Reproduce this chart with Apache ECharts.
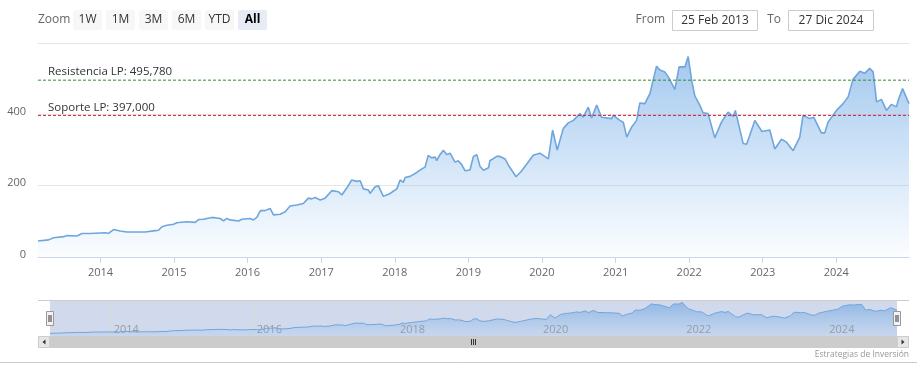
<!DOCTYPE html>
<html>
<head>
<meta charset="utf-8">
<script src="https://cdn.jsdelivr.net/npm/echarts@6/dist/echarts.min.js"></script>
<style>
html,body{margin:0;padding:0;background:#fff;}
#c{width:917px;height:378px;}
</style>
</head>
<body>
<div id="c"></div>
<script>
// ---- data ----
const dates = ['2013-02-25','2013-04-19','2013-05-13','2013-07-02','2013-07-19','2013-09-06','2013-10-01','2013-11-11',
'2014-01-25','2014-02-10','2014-03-07','2014-04-09','2014-05-12','2014-07-17','2014-08-11','2014-09-30','2014-10-16','2014-11-02','2014-11-27','2014-12-30',
'2015-01-15','2015-03-06','2015-04-16','2015-05-03','2015-05-27','2015-07-08','2015-08-18','2015-09-04','2015-09-20','2015-10-07','2015-11-17','2015-12-04',
'2016-01-14','2016-01-30','2016-02-16','2016-03-05','2016-03-28','2016-04-22','2016-05-09','2016-06-11','2016-07-06','2016-07-30','2016-09-02','2016-10-04','2016-10-29','2016-11-15','2016-12-01','2016-12-27',
'2017-01-20','2017-02-22','2017-03-27','2017-04-13','2017-05-08','2017-06-01','2017-06-26','2017-07-13','2017-07-29','2017-08-23','2017-08-31','2017-09-25','2017-10-11','2017-11-05','2017-12-08',
'2018-01-11','2018-01-27','2018-02-12','2018-02-21','2018-03-18','2018-04-20','2018-05-15','2018-05-31','2018-06-16','2018-07-03','2018-07-20','2018-07-28','2018-08-13','2018-08-30','2018-09-16','2018-10-02','2018-10-27','2018-11-12','2018-11-29','2018-12-15',
'2019-01-09','2019-01-26','2019-02-12','2019-02-28','2019-03-17','2019-04-11','2019-04-18','2019-05-22','2019-06-07','2019-07-02','2019-07-18','2019-08-26','2019-09-23','2019-11-19','2019-12-22',
'2020-02-02','2020-02-23','2020-03-17','2020-04-16','2020-05-11','2020-06-05','2020-07-08','2020-07-24','2020-08-18','2020-09-04','2020-09-29','2020-10-23','2020-12-12','2020-12-20',
'2021-01-22','2021-02-08','2021-02-25','2021-03-21','2021-04-15','2021-05-01','2021-05-26','2021-06-20','2021-07-23','2021-08-09','2021-09-02','2021-09-19','2021-10-22','2021-11-12','2021-12-11','2021-12-27',
'2022-01-13','2022-01-29','2022-02-23','2022-03-11','2022-04-05','2022-05-08','2022-06-10','2022-07-13','2022-08-07','2022-08-18','2022-09-26','2022-10-13','2022-11-23','2022-12-28',
'2023-02-05','2023-03-02','2023-04-04','2023-04-29','2023-06-01','2023-07-04','2023-07-20','2023-08-23','2023-09-11','2023-10-19','2023-11-05','2023-11-21',
'2024-01-02','2024-02-04','2024-02-29','2024-03-24','2024-04-27','2024-05-21','2024-06-15','2024-07-02','2024-07-19','2024-08-12','2024-09-06','2024-10-01','2024-10-26','2024-11-03','2024-11-25','2024-12-27'];
const values = [45,48,54,57,60,59,66,66,
68,66,77,73,70,70,70,74,75,85,89,92,
96,99,97,105,106,111,108,101,108,104,101,106,
108,104,111,130,130,136,118,120,127,143,146,150,165,163,167,160,
165,186,183,174,194,216,212,214,191,188,178,197,200,170,178,
191,216,209,223,226,237,247,252,285,278,280,270,287,299,287,291,266,270,259,242,
244,282,287,254,243,250,270,282,282,275,258,225,242,285,291,
275,356,300,360,376,383,402,392,420,390,426,392,388,397,
383,378,336,364,383,432,430,458,535,524,519,505,470,533,533,562,
496,452,425,404,402,334,378,406,394,411,318,316,383,352,
356,303,330,322,298,336,397,388,392,348,348,378,
411,430,449,498,521,515,529,519,435,442,411,428,421,439,472,430];
const resistencia = 495.78;
const soporte = 397;
const yTicks = [0, 200, 400, 600];
const navYears = ['2014-01-01','2016-01-01','2018-01-01','2020-01-01','2022-01-01','2024-01-01'];
const zoomButtons = ['1W','1M','3M','6M','YTD','All'];
const fromText = '25 Feb 2013';
const toText = '27 Dic 2024';
const startDate = '2013-02-25';
const endDate = '2024-12-27';

const seriesData = dates.map((d, i) => [d, values[i]]);
const FONT = '"Open Sans", "DejaVu Sans", sans-serif';
const YEAR = 365 * 24 * 3600 * 1000;
const fmt3 = v => v.toFixed(3).replace('.', ',');

const chart = echarts.init(document.getElementById('c'), null, {renderer: 'canvas'});

const areaGrad = new echarts.graphic.LinearGradient(0, 0, 0, 1, [
  {offset: 0, color: 'rgba(118,172,230,0.95)'},
  {offset: 1, color: 'rgba(124,181,236,0.04)'}
]);
const navGrad = new echarts.graphic.LinearGradient(0, 0, 0, 1, [
  {offset: 0, color: 'rgba(110,162,222,0.9)'},
  {offset: 1, color: 'rgba(124,181,236,0.15)'}
]);

// graphic elements (UI chrome)
const g = [];
g.push({type:'text', x:38, y:20, z:10, style:{text:'Zoom', fill:'#666', font:'12px ' + FONT, textAlign:'left', textVerticalAlign:'middle'}});
zoomButtons.forEach((b, i) => {
  const x = 73 + i * 33;
  const sel = b === 'All';
  g.push({type:'rect', z:10, shape:{x:x, y:10, width:29, height:20, r:2}, style:{fill: sel ? '#e6ebf5' : '#f7f7f7'}});
  g.push({type:'text', z:11, x:x + 14.5, y:20, style:{text:b, fill: sel ? '#000' : '#333', font:(sel ? 'bold ' : '') + '12px ' + FONT, textAlign:'center', textVerticalAlign:'middle'}});
});
g.push({type:'text', x:665, y:20, z:10, style:{text:'From', fill:'#666', font:'12px ' + FONT, textAlign:'right', textVerticalAlign:'middle'}});
g.push({type:'rect', z:10, shape:{x:672.5, y:10.5, width:85, height:20}, style:{fill:'#fff', stroke:'#cccccc', lineWidth:1}});
g.push({type:'text', x:715, y:20.5, z:11, style:{text:fromText, fill:'#333', font:'12px ' + FONT, textAlign:'center', textVerticalAlign:'middle'}});
g.push({type:'text', x:781, y:20, z:10, style:{text:'To', fill:'#666', font:'12px ' + FONT, textAlign:'right', textVerticalAlign:'middle'}});
g.push({type:'rect', z:10, shape:{x:788.5, y:10.5, width:85, height:20}, style:{fill:'#fff', stroke:'#cccccc', lineWidth:1}});
g.push({type:'text', x:831, y:20.5, z:11, style:{text:toText, fill:'#333', font:'12px ' + FONT, textAlign:'center', textVerticalAlign:'middle'}});

// navigator mask & outline
g.push({type:'rect', z:0, shape:{x:50, y:300, width:847, height:36}, style:{fill:'rgba(102,133,194,0.3)'}});
g.push({type:'line', z:10, shape:{x1:38, y1:300.5, x2:909, y2:300.5}, style:{stroke:'#cccccc', lineWidth:1}});
// scrollbar
g.push({type:'rect', z:10, shape:{x:38, y:336, width:871, height:12}, style:{fill:'#f2f2f2'}});
g.push({type:'rect', z:11, shape:{x:50, y:336, width:847, height:12}, style:{fill:'#cccccc'}});
g.push({type:'rect', z:11, shape:{x:38.5, y:336.5, width:11, height:11}, style:{fill:'#e6e6e6', stroke:'#cccccc', lineWidth:1}});
g.push({type:'rect', z:11, shape:{x:897.5, y:336.5, width:11, height:11}, style:{fill:'#e6e6e6', stroke:'#cccccc', lineWidth:1}});
g.push({type:'polygon', z:12, shape:{points:[[42.5,342],[45.5,339.5],[45.5,344.5]]}, style:{fill:'#333'}});
g.push({type:'polygon', z:12, shape:{points:[[904.5,342],[901.5,339.5],[901.5,344.5]]}, style:{fill:'#333'}});
[471.5, 473.5, 475.5].forEach(x => g.push({type:'line', z:12, shape:{x1:x, y1:339, x2:x, y2:345}, style:{stroke:'#333', lineWidth:1}}));
// handles
[50, 897].forEach(cx => {
  g.push({type:'rect', z:12, shape:{x:cx - 3.5, y:311.5, width:7, height:14}, style:{fill:'#f2f2f2', stroke:'#999999', lineWidth:1}});
  g.push({type:'line', z:13, shape:{x1:cx - 1, y1:315, x2:cx - 1, y2:322}, style:{stroke:'#333', lineWidth:1}});
  g.push({type:'line', z:13, shape:{x1:cx + 1, y1:315, x2:cx + 1, y2:322}, style:{stroke:'#333', lineWidth:1}});
});
// credits & bottom border
g.push({type:'text', x:909, y:355, z:10, style:{text:'Estrategias de Inversión', fill:'#999', font:'8.5px ' + FONT, textAlign:'right', textVerticalAlign:'middle'}});
g.push({type:'line', z:10, shape:{x1:0, y1:362.5, x2:917, y2:362.5}, style:{stroke:'#cccccc', lineWidth:1}});

// horizontal reference lines drawn as two-point line series through the axes
function plotLineSeries(value, text, color) {
  return {
    type: 'line', xAxisIndex: 0, yAxisIndex: 0, z: 3, silent: true,
    symbol: 'circle', symbolSize: 0.001, showSymbol: true, showAllSymbol: true, color: color,
    lineStyle: {color: color, type: [3, 2], width: 1},
    itemStyle: {color: color},
    label: {show: false},
    data: [
      {value: [startDate, value], label: {show: true, position: [10, -14],
        color: '#333', fontSize: 11.5, fontFamily: FONT, formatter: text}},
      {value: [endDate, value]}
    ]
  };
}

const option = {
  animation: false,
  textStyle: {fontFamily: FONT},
  grid: [
    {left: 38, right: 8, top: 43, height: 214},
    {left: 50, right: 20, top: 300, height: 36}
  ],
  xAxis: [
    {
      type: 'time', gridIndex: 0, min: startDate, max: endDate,
      minInterval: YEAR, maxInterval: YEAR * 1.01,
      axisLine: {lineStyle: {color: '#ccd6eb'}},
      axisTick: {show: true, length: 6, lineStyle: {color: '#ccd6eb'}},
      axisLabel: {color: '#666', fontSize: 11, margin: 10, showMinLabel: false, showMaxLabel: false,
        formatter: v => String(new Date(v).getFullYear())},
      splitLine: {show: false}
    },
    {
      type: 'time', gridIndex: 1, min: startDate, max: endDate,
      minInterval: YEAR, maxInterval: YEAR * 1.01,
      axisLine: {show: false},
      axisTick: {show: false},
      axisLabel: {inside: true, color: '#999', fontSize: 11, margin: 1, align: 'left', padding: [0, 0, 0, 3],
        showMinLabel: false, showMaxLabel: false,
        formatter: v => { const y = new Date(v).getFullYear(); return y % 2 === 0 ? String(y) : ''; }},
      splitLine: {show: false}
    }
  ],
  yAxis: [
    {
      type: 'value', gridIndex: 0, min: yTicks[0], max: yTicks[yTicks.length - 1], interval: 200,
      axisLine: {show: false}, axisTick: {show: false},
      axisLabel: {color: '#666', fontSize: 11, margin: 12, showMaxLabel: false, verticalAlign: 'bottom', lineHeight: 5},
      splitLine: {lineStyle: {color: '#e6e6e6'}}
    },
    {
      type: 'value', gridIndex: 1, min: 0, max: 600,
      axisLine: {show: false}, axisTick: {show: false}, axisLabel: {show: false}, splitLine: {show: false}
    }
  ],
  series: [
    {
      type: 'line', xAxisIndex: 0, yAxisIndex: 0, data: seriesData,
      symbol: 'none', smooth: false, z: 2,
      lineStyle: {color: '#6fa6dc', width: 1.6},
      areaStyle: {color: areaGrad, origin: 'start'}
    },
    plotLineSeries(resistencia, 'Resistencia LP: ' + fmt3(resistencia), '#2f8f2f'),
    plotLineSeries(soporte, 'Soporte LP: ' + fmt3(soporte), '#d01c30'),
    {
      type: 'line', xAxisIndex: 1, yAxisIndex: 1, data: seriesData,
      symbol: 'none', z: 2,
      lineStyle: {color: '#6fa6dc', width: 1},
      areaStyle: {color: navGrad, origin: 'start'},
      markLine: {
        silent: true, symbol: 'none', z: 1,
        lineStyle: {color: '#d9d9d9', type: 'solid', width: 1},
        label: {show: false},
        data: navYears.map(d => ({xAxis: d}))
      }
    }
  ],
  graphic: g
};
chart.setOption(option);
</script>
</body>
</html>
